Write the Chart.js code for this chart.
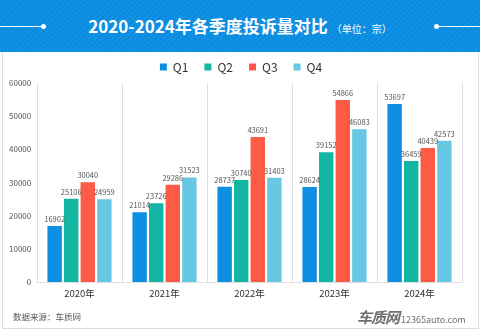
<!DOCTYPE html>
<html>
<head>
<meta charset="utf-8">
<script src="https://cdn.jsdelivr.net/npm/chart.js@4.4.1/dist/chart.umd.min.js"></script>
<style>
  html, body { margin: 0; padding: 0; width: 480px; height: 332px; overflow: hidden; background: #fff; font-family: "Noto Sans CJK SC", "Noto Sans", sans-serif; }
  #header { position: absolute; left: 0; top: 0; width: 480px; height: 52px;
    background: repeating-linear-gradient(135deg, #0a8be0 0px, #0a8be0 2px, #1192e4 2px, #1192e4 4px); }
  #title { position: absolute; left: 0; top: 0; width: 480px; height: 52px; line-height: 52px; text-align: center; color: #fff; white-space: nowrap; }
  #title .main { font-size: 17px; font-weight: 700; }
  #title .unit { font-size: 10px; margin-left: 4px; }
  .hl { position: absolute; top: 26px; height: 1px; background: #fff; }
  .dot { position: absolute; top: 24px; width: 5px; height: 5px; border-radius: 50%; background: #fff; }
  #panel { position: absolute; left: 2px; top: 52px; width: 475px; height: 276px; border: 1px solid #dcdcdc; border-top: none; }
  #wrap { position: absolute; left: 0; top: 52px; width: 480px; height: 280px; }
  #src { position: absolute; left: 13px; top: 310px; font-size: 8.5px; color: #555; }
  #wm { position: absolute; left: 357px; top: 304px; color: #6e6e6e; white-space: nowrap; }
  #wm .logo { font-size: 15px; font-weight: 700; letter-spacing: -1px; font-style: italic; }
  #wm .url { font-size: 9px; margin-left: 2px; }
</style>
</head>
<body>
<div id="header"></div>
<div class="hl" style="left:0;width:43px"></div>
<div class="dot" style="left:41px"></div>
<div class="hl" style="left:437px;width:43px"></div>
<div class="dot" style="left:434px"></div>
<div id="title"><span class="main">2020-2024年各季度投诉量对比</span><span class="unit">（单位：宗）</span></div>
<div id="panel"></div>
<div id="wrap"><canvas id="c" width="480" height="280"></canvas></div>
<div id="src">数据来源：车质网</div>
<div id="wm"><span class="logo">车质网</span><span class="url">12365auto.com</span></div>
<script>
const categories = ['2020年', '2021年', '2022年', '2023年', '2024年'];
const seriesNames = ['Q1', 'Q2', 'Q3', 'Q4'];
const q1 = [16902, 21014, 28737, 28624, 53697];
const q2 = [25106, 23726, 30740, 39152, 36459];
const q3 = [30040, 29286, 43691, 54866, 40439];
const q4 = [24959, 31523, 31403, 46083, 42573];
const yTicks = [0, 10000, 20000, 30000, 40000, 50000, 60000];
const colors = ['#0f8fe2', '#12b6a3', '#fd5b45', '#68c7e2'];

const seriesValues = [q1, q2, q3, q4];

const labelPlugin = {
  id: 'barLabels',
  afterDatasetsDraw(chart) {
    const ctx = chart.ctx;
    ctx.save();
    ctx.font = '7.5px "Noto Sans CJK SC", "Noto Sans", sans-serif';
    ctx.fillStyle = '#555';
    ctx.textAlign = 'center';
    ctx.textBaseline = 'middle';
    chart.data.datasets.forEach((ds, i) => {
      const meta = chart.getDatasetMeta(i);
      meta.data.forEach((bar, j) => {
        ctx.fillText(String(ds.data[j]), bar.x, bar.y - 7);
      });
    });
    ctx.restore();
  }
};

new Chart(document.getElementById('c'), {
  type: 'bar',
  data: {
    labels: categories,
    datasets: seriesNames.map((n, i) => ({
      label: n,
      data: seriesValues[i],
      backgroundColor: colors[i],
      borderWidth: 0,
      categoryPercentage: 0.78,
      barPercentage: 0.87
    }))
  },
  options: {
    responsive: false,
    animation: false,
    devicePixelRatio: 1,
    layout: { padding: { left: 20, right: 18, top: -7, bottom: 0 } },
    plugins: {
      legend: {
        position: 'top',
        labels: {
          boxWidth: 7, boxHeight: 7, padding: 16,
          color: '#333',
          font: { size: 12, family: '"Noto Sans CJK SC", "Noto Sans", sans-serif' }
        }
      },
      tooltip: { enabled: false }
    },
    scales: {
      x: {
        grid: { display: true, offset: true, color: '#dedede', drawTicks: false },
        border: { display: true, color: '#dedede' },
        ticks: { color: '#333', padding: 6, font: { size: 9.5, family: '"Noto Sans CJK SC", sans-serif' } },
        afterFit(scale) { scale.height = 50; }
      },
      y: {
        min: 0, max: 60000,
        afterBuildTicks(scale) { scale.ticks = yTicks.map(v => ({ value: v })); },
        grid: { display: false, drawTicks: false },
        border: { display: false },
        ticks: {
          mirror: true, crossAlign: 'far', padding: -28,
          color: '#555', font: { size: 8, family: '"Noto Sans CJK SC", sans-serif' },
          callback: v => String(v)
        },
        afterFit(scale) { scale.width = 17; }
      }
    }
  },
  plugins: [labelPlugin]
});
</script>
</body>
</html>
